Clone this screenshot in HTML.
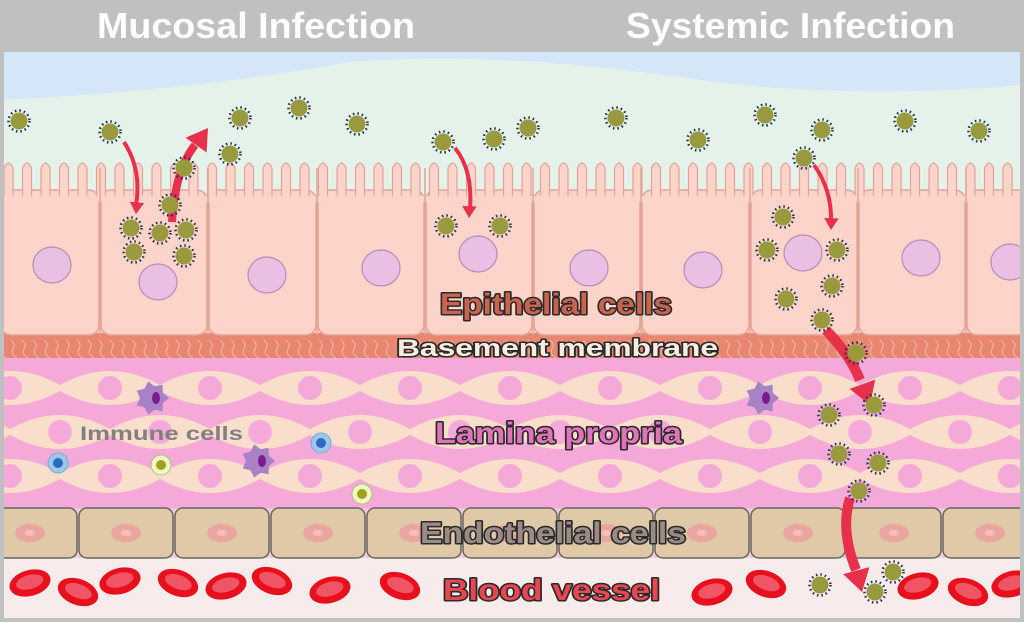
<!DOCTYPE html>
<html><head><meta charset="utf-8"><style>
html,body{margin:0;padding:0;background:#c0c0c0;}
svg{display:block}
.t{font-family:"Liberation Sans",sans-serif;font-weight:bold;}
</style></head><body>
<svg id="s" width="1024" height="622" viewBox="0 0 1024 622" xmlns="http://www.w3.org/2000/svg">
<defs>
<linearGradient id="sky" x1="0" y1="0" x2="0" y2="1"><stop offset="0" stop-color="#d4e6f8"/><stop offset="1" stop-color="#d8ebf2"/></linearGradient>
<clipPath id="cl"><rect x="4" y="52" width="1016" height="566"/></clipPath>
</defs>
<rect width="1024" height="622" fill="#c0c0c0"/>
<text class="t" x="97" y="38" font-size="36" fill="#fff" textLength="318" lengthAdjust="spacingAndGlyphs">Mucosal Infection</text>
<text class="t" x="626" y="38" font-size="36" fill="#fff" textLength="329" lengthAdjust="spacingAndGlyphs">Systemic Infection</text>
<g clip-path="url(#cl)" id="g">
<rect x="0" y="52" width="1024" height="570" fill="url(#sky)"/>
<path d="M0 100 Q200 90 350 62 Q500 50 700 80 Q850 100 1024 85 L1024 200 L0 200Z" fill="#e5f2ea"/>
<rect x="0" y="195" width="1024" height="145" fill="#fbd3c8"/>
<rect x="0" y="333" width="1024" height="30" fill="#e98670"/>
<rect x="0" y="358" width="1024" height="152" fill="#f5a9d8"/>
<rect x="0" y="508" width="1024" height="52" fill="#f0c9d6"/>
<rect x="0" y="558" width="1024" height="64" fill="#f8ebeb"/>
</g>
<g id="dyn" clip-path="url(#cl)"></g>
<g class="t" stroke="#2a2a2a" stroke-width="3" paint-order="stroke" stroke-linejoin="round" lengthAdjust="spacingAndGlyphs">
<text x="440" y="314" font-size="30" fill="#c9634f" textLength="232" lengthAdjust="spacingAndGlyphs">Epithelial cells</text>
<text x="397" y="356" font-size="24" fill="#f6eee2" textLength="321" lengthAdjust="spacingAndGlyphs">Basement membrane</text>
<text x="435" y="443" font-size="30" fill="#e173bb" textLength="247" lengthAdjust="spacingAndGlyphs">Lamina propria</text>
<text x="420" y="543" font-size="30" fill="#9a8c84" textLength="266" lengthAdjust="spacingAndGlyphs">Endothelial cells</text>
<text x="443" y="600" font-size="30" fill="#e84650" textLength="217" lengthAdjust="spacingAndGlyphs">Blood vessel</text>
</g>
<text class="t" x="80" y="440" font-size="19" fill="#808080" textLength="163" lengthAdjust="spacingAndGlyphs">Immune cells</text>
<g id="top"></g>
</svg>
<script>
var NS="http://www.w3.org/2000/svg",d=document.getElementById('dyn'),tp=document.getElementById('top');
function el(p,t,a){var e=document.createElementNS(NS,t);for(var k in a)e.setAttribute(k,a[k]);p.appendChild(e);return e;}
var xs=[0,100,208,317,425,533,641,750,858,966,1074];
for(var i=0;i<10;i++){var x0=xs[i]+1,x1=xs[i+1]-1;
 el(d,'rect',{x:x0,y:190,width:x1-x0,height:145,rx:10,fill:'#fcd4ca',stroke:'#e4a396','stroke-width':1.5});}
var p='M0 197';for(var x=0;x<1030;x+=18.5){p+=' L'+(x+4)+' 197 L'+(x+4)+' 168 Q'+(x+8.5)+' 158 '+(x+13)+' 168 L'+(x+13)+' 197';}
el(d,'path',{d:p+' L1030 197',fill:'#fcd4ca',stroke:'#e4a396','stroke-width':1.2});
el(d,'rect',{x:0,y:196,width:1024,height:6,fill:'#fcd4ca'});
for(var i=1;i<10;i++)el(d,'line',{x1:xs[i],y1:168,x2:xs[i],y2:335,stroke:'#e4a396','stroke-width':1.5});
[[52,265],[158,282],[267,275],[381,268],[478,254],[589,268],[703,270],[803,253],[921,258],[1010,262]].forEach(function(c){
 el(d,'ellipse',{cx:c[0],cy:c[1],rx:19,ry:18,fill:'#eabfe4',stroke:'#b88ab8','stroke-width':1.2});});
for(var x=0;x<1024;x+=11){el(d,'path',{d:'M'+x+' 340 q5 4 2 9 q-3 5 4 9',stroke:'#fff','stroke-width':0.8,fill:'none',opacity:0.55});}
for(var r=0;r<3;r++){var y=388+r*44,off=(r==1)?60:10;
 for(var x=off-100;x<1124;x+=100){
  el(d,'path',{d:'M'+(x-55)+' '+y+' Q'+x+' '+(y-34)+' '+(x+55)+' '+y+' Q'+x+' '+(y+34)+' '+(x-55)+' '+y+'Z',fill:'#f9dfcb'});
  el(d,'circle',{cx:x,cy:y,r:12,fill:'#f5a9d8'});}}
for(var x=-17;x<1024;x+=96){el(d,'rect',{x:x,y:508,width:94,height:50,rx:8,fill:'#dfc9a6',stroke:'#666','stroke-width':1.5});
 el(d,'ellipse',{cx:x+47,cy:533,rx:15,ry:9,fill:'#eba5a0'});el(d,'ellipse',{cx:x+47,cy:533,rx:5,ry:3,fill:'#f1c3b4'});}
[[30,583],[78,592],[120,581],[178,583],[226,586],[272,581],[330,590],[400,586],[712,592],[766,584],[918,586],[968,592],[1012,584]].forEach(function(c,i){
 var g=el(d,'g',{transform:'translate('+c[0]+' '+c[1]+') rotate('+(i%2?20:-15)+')'});
 el(g,'ellipse',{cx:0,cy:0,rx:21,ry:13,fill:'#e8101c'});el(g,'ellipse',{cx:0,cy:-1,rx:14,ry:7,fill:'#f05566'});});
[[152,398],[258,461],[762,398]].forEach(function(c){
 var pp='';for(var k=0;k<14;k++){var a=k*Math.PI/7,rr=k%2?12:17;pp+=(k?'L':'M')+(c[0]+rr*Math.cos(a))+' '+(c[1]+rr*Math.sin(a));}
 el(d,'path',{d:pp+'Z',fill:'#a982c6'});el(d,'ellipse',{cx:c[0]+4,cy:c[1],rx:4,ry:6,fill:'#7a1c90'});});
[[58,463],[321,443]].forEach(function(c){el(d,'circle',{cx:c[0],cy:c[1],r:10,fill:'#9cc6ea',stroke:'#7aa8d4'});el(d,'circle',{cx:c[0],cy:c[1],r:5,fill:'#2a6cc0'});});
[[161,465],[362,494]].forEach(function(c){el(d,'circle',{cx:c[0],cy:c[1],r:10,fill:'#f0f8c0',stroke:'#a8c080'});el(d,'circle',{cx:c[0],cy:c[1],r:5,fill:'#a0a020'});});
function arrow(path,w,tip,ang,hs){el(tp,'path',{d:path,stroke:'#e8304a','stroke-width':w,fill:'none'});
 var a=ang*Math.PI/180,L=hs*1.3,W=hs*0.8;var bx=tip[0]-L*Math.cos(a),by=tip[1]-L*Math.sin(a);
 el(tp,'path',{d:'M'+tip[0]+' '+tip[1]+' L'+(bx-W*Math.sin(a))+' '+(by+W*Math.cos(a))+' L'+(bx+W*Math.sin(a))+' '+(by-W*Math.cos(a))+'Z',fill:'#e8304a'});}
arrow('M124 142 Q142 170 136 205',4,[136,214],95,9);
arrow('M172 222 Q175 170 195 145',8,[208,128],-55,16);
arrow('M455 148 Q473 170 470 210',4,[469,218],92,9);
arrow('M814 165 Q832 190 831 222',4,[831,230],92,9);
arrow('M826 330 Q850 355 860 380',10,[870,405],70,17);
arrow('M850 498 Q840 530 856 570',10,[862,592],75,17);
[[19,121],[110,132],[240,118],[299,108],[357,124],[230,154],[184,168],[443,142],[494,139],[528,128],[616,118],[698,140],[765,115],[822,130],[905,121],[979,131],[804,158],
[170,205],[131,228],[160,233],[186,230],[134,252],[184,256],[446,226],[500,226],
[783,217],[767,250],[837,250],[832,286],[786,299],[822,320],[856,353],[874,405],[829,415],[839,454],[878,463],[859,491],[820,585],[893,572],[875,592]].forEach(function(c){
 el(tp,'circle',{cx:c[0],cy:c[1],r:10.5,fill:'none',stroke:'#223050','stroke-width':2.5,'stroke-dasharray':'1.5 3'});
 el(tp,'circle',{cx:c[0],cy:c[1],r:8.5,fill:'#999a3e'});});
</script>
</body></html>
